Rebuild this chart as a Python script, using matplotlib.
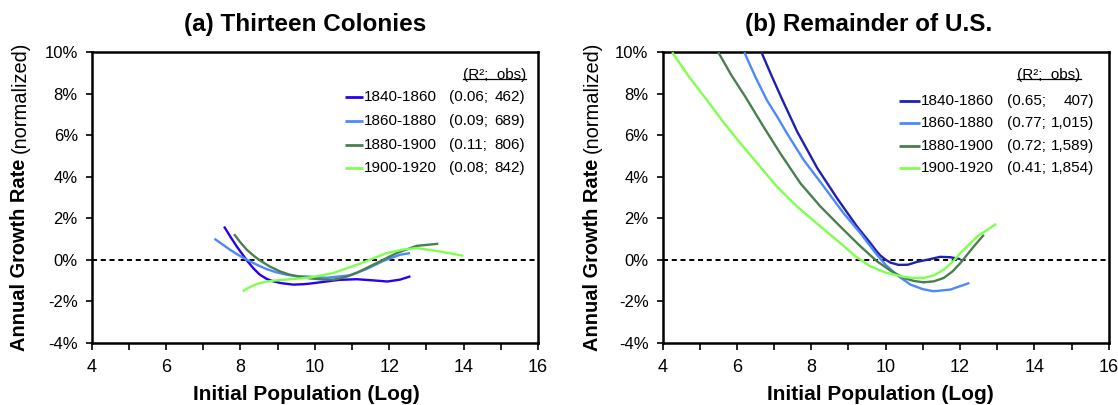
import matplotlib
matplotlib.use('Agg')
import matplotlib.pyplot as plt
from matplotlib.ticker import MultipleLocator, FuncFormatter
from matplotlib.transforms import IdentityTransform
from matplotlib.lines import Line2D

plt.rcParams['font.family'] = ['Liberation Sans', 'DejaVu Sans']
plt.rcParams['axes.unicode_minus'] = False

# ---------------- data ----------------
periods = ['1840-1860', '1860-1880', '1880-1900', '1900-1920']

# Panel (a) Thirteen Colonies
a1840_x = [7.56, 7.75, 7.90, 8.05, 8.17, 8.35, 8.52, 8.70, 8.88, 9.10, 9.42, 9.70, 9.87, 10.14, 10.65, 11.13, 11.6, 11.95, 12.29, 12.57]
a1840_y = [1.6, 1.05, 0.64, 0.27, -0.03, -0.42, -0.72, -0.92, -1.04, -1.13, -1.2, -1.18, -1.15, -1.09, -0.97, -0.94, -1.0, -1.05, -0.96, -0.8]
a1860_x = [7.30, 7.50, 7.72, 7.95, 8.17, 8.45, 8.70, 8.95, 9.24, 9.55, 9.87, 10.32, 10.94, 11.39, 11.84, 12.29, 12.56]
a1860_y = [1.01, 0.76, 0.48, 0.22, 0.0, -0.25, -0.45, -0.6, -0.72, -0.79, -0.82, -0.87, -0.75, -0.45, -0.06, 0.24, 0.32]
a1880_x = [7.83, 8.00, 8.17, 8.35, 8.52, 8.78, 9.06, 9.30, 9.51, 9.87, 10.20, 10.50, 10.80, 11.12, 11.66, 12.20, 12.74, 13.32]
a1880_y = [1.23, 0.83, 0.48, 0.2, -0.03, -0.32, -0.56, -0.71, -0.8, -0.9, -0.95, -0.96, -0.85, -0.64, -0.16, 0.32, 0.67, 0.77]
a1900_x = [8.06, 8.25, 8.44, 8.65, 8.88, 9.42, 9.87, 10.50, 11.21, 11.93, 12.40, 12.74, 13.36, 13.99]
a1900_y = [-1.52, -1.32, -1.17, -1.07, -1.01, -0.93, -0.86, -0.64, -0.19, 0.32, 0.5, 0.56, 0.4, 0.19]

# Panel (b) Remainder of U.S.
b1840_x = [6.66, 6.95, 7.22, 7.62, 8.16, 8.70, 9.23, 9.59, 9.75, 9.86, 10.0, 10.13, 10.35, 10.6, 10.85, 11.12, 11.47, 11.74, 12.01]
b1840_y = [10.0, 8.8, 7.72, 6.18, 4.42, 2.95, 1.6, 0.8, 0.42, 0.2, 0.0, -0.14, -0.25, -0.24, -0.1, 0.0, 0.14, 0.12, 0.03]
b1860_x = [6.20, 6.5, 6.81, 7.1, 7.35, 7.80, 8.34, 8.87, 9.32, 9.73, 10.0, 10.35, 10.67, 11.0, 11.29, 11.74, 12.25]
b1860_y = [10.0, 8.8, 7.68, 6.85, 6.08, 4.8, 3.52, 2.24, 1.28, 0.32, -0.25, -0.8, -1.2, -1.42, -1.52, -1.44, -1.12]
b1880_x = [5.50, 5.85, 6.23, 6.72, 7.17, 7.71, 8.25, 8.78, 9.32, 9.77, 10.15, 10.49, 10.75, 11.02, 11.3, 11.56, 11.8, 12.01, 12.37, 12.64]
b1880_y = [10.0, 8.9, 7.85, 6.4, 5.12, 3.68, 2.56, 1.6, 0.65, -0.08, -0.55, -0.88, -1.02, -1.09, -1.04, -0.88, -0.56, -0.16, 0.64, 1.2]
b1900_x = [4.26, 4.7, 5.20, 5.65, 6.10, 6.55, 7.08, 7.62, 8.25, 8.78, 9.19, 9.59, 10.0, 10.49, 10.75, 11.02, 11.3, 11.56, 11.8, 12.01, 12.46, 12.97]
b1900_y = [10.0, 8.85, 7.68, 6.6, 5.6, 4.64, 3.52, 2.56, 1.6, 0.8, 0.16, -0.32, -0.62, -0.83, -0.88, -0.88, -0.75, -0.48, -0.1, 0.32, 1.12, 1.73]

a_r2 = ['0.06', '0.09', '0.11', '0.08']
a_obs = ['462', '689', '806', '842']
b_r2 = ['0.65', '0.77', '0.72', '0.41']
b_obs = ['407', '1,015', '1,589', '1,854']

titles = ['(a) Thirteen Colonies', '(b) Remainder of U.S.']
xlabel = 'Initial Population (Log)'
ylabel_bold = 'Annual Growth Rate'
ylabel_norm = '(normalized)'
legend_header = '(R\u00b2;  obs)'

colors_a = ['#2a00f0', '#4d88ff', '#4b7f4f', '#80ff4f']
colors_b = ['#2020b0', '#4d88ff', '#4b7f4f', '#80ff4f']

# ---------------- figure ----------------
W, H = 1118, 405
fig = plt.figure(figsize=(W / 100, H / 100), dpi=100)

ax_left_px = [91.7, 662.5]
ax_w_px = 446.3
ax_top_px, ax_bot_px = 52.3, 342.7

panels = [
    dict(series=[(a1840_x, a1840_y), (a1860_x, a1860_y), (a1880_x, a1880_y), (a1900_x, a1900_y)],
         colors=colors_a, r2=a_r2, obs=a_obs,
         line_x=(0.567, 0.608), text_x=0.610, r2_x=0.801, obs_x=0.971, head_x=0.974,
         rows_y=[0.845, 0.7634, 0.681, 0.6006],
         title_x=305, xlabel_x=306, ylabel_x=20),
    dict(series=[(b1840_x, b1840_y), (b1860_x, b1860_y), (b1880_x, b1880_y), (b1900_x, b1900_y)],
         colors=colors_b, r2=b_r2, obs=b_obs,
         line_x=(0.531, 0.576), text_x=0.578, r2_x=0.772, obs_x=0.967, head_x=0.937,
         rows_y=[0.833, 0.7555, 0.677, 0.6006],
         title_x=869, xlabel_x=880, ylabel_x=592),
]

fmt = FuncFormatter(lambda v, p: f'{v:.0f}%')
axes = []
for i, P in enumerate(panels):
    ax = fig.add_axes([ax_left_px[i] / W, (H - ax_bot_px) / H, ax_w_px / W, (ax_bot_px - ax_top_px) / H])
    axes.append(ax)
    ax.set_xlim(4, 16)
    ax.set_ylim(-4, 10)
    ax.xaxis.set_major_locator(MultipleLocator(2))
    ax.xaxis.set_minor_locator(MultipleLocator(1))
    ax.yaxis.set_major_locator(MultipleLocator(2))
    ax.yaxis.set_major_formatter(fmt)
    for s in ax.spines.values():
        s.set_linewidth(1.8)
    ax.tick_params(axis='x', which='both', direction='out', length=5, width=1.2, labelsize=13, pad=7)
    ax.tick_params(axis='y', which='major', direction='out', length=4, width=1.2, labelsize=12, pad=6)
    ax.axhline(0, color='black', lw=1.4, ls=(0, (2.6, 1.9)), zorder=1)
    for (xs, ys), c in zip(P['series'], P['colors']):
        ax.plot(xs, ys, color=c, lw=1.7, zorder=3, solid_capstyle='butt', solid_joinstyle='round', clip_on=True)
    # legend
    for j in range(4):
        y = P['rows_y'][j]
        ax.add_line(Line2D(P['line_x'], [y, y], transform=ax.transAxes, color=P['colors'][j],
                           lw=2.0, solid_capstyle='butt'))
        ax.text(P['text_x'], y, periods[j], transform=ax.transAxes, fontsize=11, va='center', ha='left')
        ax.text(P['r2_x'], y, '(' + P['r2'][j] + ';', transform=ax.transAxes, fontsize=11, va='center', ha='left')
        ax.text(P['obs_x'], y, P['obs'][j] + ')', transform=ax.transAxes, fontsize=11, va='center', ha='right')
    P['head'] = ax.text(P['head_x'], 0.922, legend_header, transform=ax.transAxes, fontsize=11,
                        va='center', ha='right')
    fig.text(P['title_x'] / W, 1 - 24 / H, titles[i], fontsize=17.5, fontweight='bold', ha='center', va='center')
    fig.text(P['xlabel_x'] / W, 10.5 / H, xlabel, fontsize=15, fontweight='bold', ha='center', va='center')

# two-part y labels and header underline
fig.canvas.draw()
r = fig.canvas.get_renderer()
center_y = H - 196
ysize = 14.4
for i, P in enumerate(panels):
    t1 = fig.text(0, 0, ylabel_bold, fontsize=ysize, fontweight='bold', rotation=90, transform=IdentityTransform())
    t2 = fig.text(0, 0, ylabel_norm, fontsize=ysize, rotation=90, transform=IdentityTransform())
    h1 = t1.get_window_extent(r).height
    h2 = t2.get_window_extent(r).height
    gap = 0.278 * ysize * 100 / 72
    total = h1 + gap + h2
    y0 = center_y - total / 2
    t1.set_position((P['ylabel_x'], y0))
    t1.set_ha('center'); t1.set_va('bottom')
    t2.set_position((P['ylabel_x'], y0 + h1 + gap))
    t2.set_ha('center'); t2.set_va('bottom')
    bb = P['head'].get_window_extent(r)
    yline = bb.y0 + 2.5
    fig.add_artist(Line2D([bb.x0, bb.x1], [yline, yline], transform=IdentityTransform(), color='black', lw=0.9))

fig.savefig('out.png', dpi=100)
